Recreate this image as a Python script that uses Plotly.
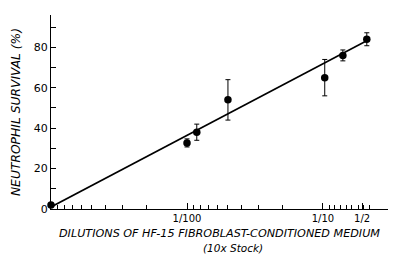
import plotly.graph_objects as go

# Data (dilution as fraction of stock, % neutrophil survival)
dilution = [0.001, 0.01, 0.0118, 0.02, 0.103, 0.14, 0.21]
survival = [2, 32.7, 38, 54, 65, 76, 84]
err = [0, 2, 4, 10, 9, 2.7, 3.2]

fit_x = [0.001, 0.22]
fit_y = [1, 84]

x_tickvals = [0.01, 0.1, 0.194]
x_ticktext = ["1/100", "1/10", "1/2"]
x_minor = [1/900, 1/800, 1/700, 1/600, 1/500, 1/400, 1/300, 1/200,
           1/90, 1/80, 1/70, 1/60, 1/50, 1/40, 1/30, 1/20,
           0.111, 0.122, 0.134, 0.148, 0.163, 0.181, 0.197, 0.218]
y_tickvals = [0, 20, 40, 60, 80]

fig = go.Figure()
fig.add_trace(go.Scatter(x=fit_x, y=fit_y, mode="lines",
                         line=dict(color="black", width=1.6),
                         showlegend=False, hoverinfo="skip", cliponaxis=False))
fig.add_trace(go.Scatter(x=dilution, y=survival, mode="markers",
                         marker=dict(color="black", size=7.5),
                         error_y=dict(type="data", array=err, color="black",
                                      thickness=1, width=2.5),
                         showlegend=False, cliponaxis=False))

font = dict(family="DejaVu Sans, Liberation Sans, sans-serif", color="#000")
fig.update_layout(
    width=397, height=254,
    margin=dict(l=51, r=9, t=15, b=45),
    paper_bgcolor="white", plot_bgcolor="white",
    font=dict(size=10, **font),
    xaxis=dict(type="log", range=[-3.0, -0.522], automargin=False,
               tickvals=x_tickvals, ticktext=x_ticktext,
               ticks="inside", ticklen=6, tickwidth=1, tickcolor="black",
               minor=dict(tickvals=x_minor, ticks="inside", ticklen=4,
                          tickwidth=1, tickcolor="black"),
               showline=True, linecolor="black", linewidth=1.3,
               showgrid=False, zeroline=False,
               tickfont=dict(size=10, **font),
               title=dict(text="<i>DILUTIONS OF HF-15 FIBROBLAST-CONDITIONED MEDIUM</i>",
                          font=dict(size=11.2, **font), standoff=6)),
    yaxis=dict(range=[0, 96], automargin=False,
               tickvals=y_tickvals,
               ticks="inside", ticklen=5, tickwidth=1, tickcolor="black",
               minor=dict(tickvals=[10, 30, 50, 70, 90], ticks="inside",
                          ticklen=5, tickwidth=1, tickcolor="black"),
               showline=True, linecolor="black", linewidth=1.3,
               showgrid=False, zeroline=False,
               tickfont=dict(size=11, **font),
               title=dict(text="<i>NEUTROPHIL SURVIVAL (%)</i>",
                          font=dict(size=12.3, **font), standoff=10)),
    annotations=[dict(text="<i>(10x Stock)</i>", xref="paper", yref="paper",
                      x=0.54, y=-0.1985, xanchor="center", yanchor="middle",
                      showarrow=False, font=dict(size=10.5, **font))],
)

fig.write_html("out.html", config={"displayModeBar": False},
               post_script="document.body.style.margin='0';")
